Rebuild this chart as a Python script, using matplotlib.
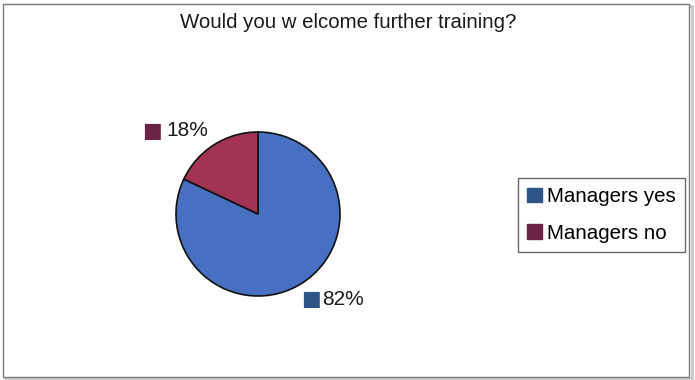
import numpy as np
import matplotlib
matplotlib.use("Agg")
import matplotlib.pyplot as plt
from matplotlib.patches import Rectangle, Patch

plt.rcParams['font.family'] = ['Liberation Sans', 'DejaVu Sans']

title = "Would you w elcome further training?"
categories = ["Managers yes", "Managers no"]
shares = [82, 18]
wedge_colors = ["#4770C2", "#A33352"]
key_colors = ["#2E5585", "#6B2445"]

W, H = 695, 380
fig = plt.figure(figsize=(W / 100, H / 100), dpi=100)

# chart border with a soft shadow
fig.patches.append(Rectangle((5 / W, 1 / H), 687 / W, 373 / H, transform=fig.transFigure,
                             facecolor="none", edgecolor="#c8c8c8", linewidth=2.0, zorder=-2))
fig.patches.append(Rectangle((3 / W, 3 / H), 686 / W, 373 / H, transform=fig.transFigure,
                             facecolor="white", edgecolor="#7a7a7a", linewidth=1.0, zorder=-1))

fig.text(348 / W, 1 - 22 / H, title, ha="center", va="center", fontsize=14.7, color="#1a1a1a")

# pie: centre (258, 214) px, radius 82 px
cx, cy, r = 258, 214, 82
half = 100
ax = fig.add_axes([(cx - half) / W, (H - cy - half) / H, 2 * half / W, 2 * half / H])
lim = half / r
ax.set_xlim(-lim, lim)
ax.set_ylim(-lim, lim)
ax.set_aspect("equal")
ax.axis("off")
ax.patch.set_visible(False)

wedges, _ = ax.pie(shares, colors=wedge_colors, startangle=90, counterclock=False,
                   wedgeprops=dict(edgecolor="#111111", linewidth=1.2))
ax.set_xlim(-lim, lim)
ax.set_ylim(-lim, lim)

for w, val, kc in zip(wedges, shares, key_colors):
    mid = np.deg2rad((w.theta1 + w.theta2) / 2)
    x, y = 1.2 * np.cos(mid), 1.2 * np.sin(mid)
    if x >= 0:
        ax.annotate("\u25A0", (x, y), xytext=(0, -1.5), textcoords="offset points",
                    ha="center", va="center", fontsize=15, color=kc,
                    family=["DejaVu Sans"], annotation_clip=False)
        ax.annotate(f"{val}%", (x, y), xytext=(8, -1.5), textcoords="offset points",
                    ha="left", va="center", fontsize=15, color="#1a1a1a",
                    annotation_clip=False)
    else:
        ax.annotate(f"{val}%", (x, y), xytext=(2, 0), textcoords="offset points",
                    ha="right", va="center", fontsize=15, color="#1a1a1a",
                    annotation_clip=False)
        ax.annotate("\u25A0", (x, y), xytext=(-38, 0), textcoords="offset points",
                    ha="center", va="center", fontsize=15, color=kc,
                    family=["DejaVu Sans"], annotation_clip=False)

handles = [Patch(facecolor=c, edgecolor=c) for c in key_colors]
leg = fig.legend(handles, categories, loc="upper left",
                 bbox_to_anchor=(518 / W, 1 - 178 / H), frameon=True, fancybox=False,
                 fontsize=14.8, handlelength=0.7, handleheight=0.7, handletextpad=0.25,
                 borderpad=0.45, labelspacing=0.85, borderaxespad=0)
leg.get_frame().set_edgecolor("#444444")
leg.get_frame().set_linewidth(1.0)

fig.savefig("out.png", dpi=100, facecolor="white")
